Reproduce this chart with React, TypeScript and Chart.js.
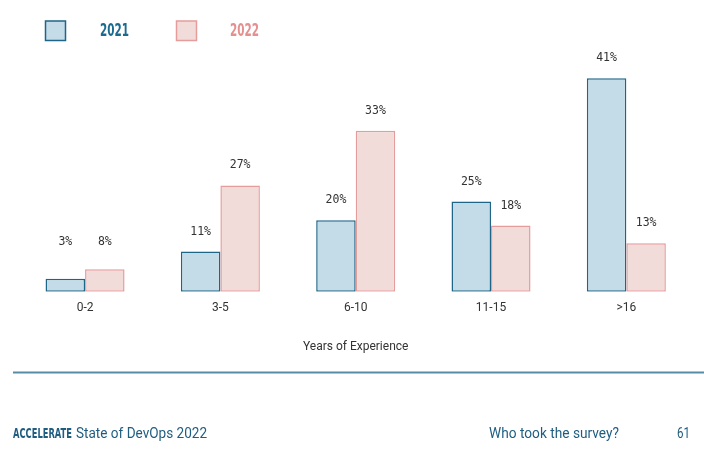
import React, { useEffect, useRef } from "react";
import { Chart, registerables } from "chart.js";

Chart.register(...registerables);

// ---- data ----
const categories = ["0-2", "3-5", "6-10", "11-15", ">16"];
const seriesNames = ["2021", "2022"];
// printed percentages
const pct2021 = [3, 11, 20, 25, 41];
const pct2022 = [8, 27, 33, 18, 13];
// bar heights as drawn in the picture (same units as the 41% bar)
const bar2021 = [2.5, 7.7, 13.7, 17.3, 41];
const bar2022 = [4.3, 20.4, 30.9, 12.7, 9.3];
const axisTitle = "Years of Experience";
const footerBrand = "ACCELERATE";
const footerTitle = "State of DevOps 2022";
const footerSection = "Who took the survey?";
const footerPage = "61";

const BLUE_FILL = "#c3dce7";
const BLUE_LINE = "#1e6588";
const PINK_FILL = "#f2dcda";
const PINK_LINE = "#e59d9c";
const BLUE_TEXT = "#1b6b91";
const PINK_TEXT = "#e58f8f";
const FOOT_TEXT = "#1f5d80";
const RULE = "#5a8ba6";
const SANS = "Roboto, 'Noto Sans', sans-serif";
const NARROW = "'Liberation Sans Narrow', 'DejaVu Sans Condensed', 'Arial Narrow', sans-serif";

function fitText(ctx: CanvasRenderingContext2D, text: string, x: number, y: number, w: number) {
  const m = ctx.measureText(text).width;
  ctx.save();
  ctx.translate(x, y);
  ctx.scale(w / m, 1);
  ctx.fillText(text, 0, 0);
  ctx.restore();
}

const labelsPlugin = {
  id: "barLabels",
  afterDatasetsDraw(chart: any) {
    const ctx = chart.ctx as CanvasRenderingContext2D;
    const printed = [pct2021, pct2022];
    const base = chart.scales.y.getPixelForValue(0);
    ctx.save();
    ctx.font = "11.5px 'DejaVu Sans Mono', monospace";
    ctx.fillStyle = "#333333";
    ctx.textAlign = "center";
    ctx.textBaseline = "middle";
    chart.data.datasets.forEach((_: any, di: number) => {
      const meta = chart.getDatasetMeta(di);
      meta.data.forEach((el: any, i: number) => {
        const y = Math.min(el.y - 20, base - 50);
        ctx.fillText(printed[di][i] + "%", el.x, y);
      });
    });
    ctx.restore();
  },
};

const decorPlugin = {
  id: "decor",
  afterDraw(chart: any) {
    const ctx = chart.ctx as CanvasRenderingContext2D;
    ctx.save();
    // legend
    const ds = chart.data.datasets;
    const boxX = [45.5, 176.5];
    const textX = [100, 230];
    const textCol = [BLUE_TEXT, PINK_TEXT];
    ds.forEach((d: any, i: number) => {
      ctx.fillStyle = d.backgroundColor;
      ctx.strokeStyle = d.borderColor;
      ctx.lineWidth = 1.5;
      ctx.fillRect(boxX[i], 21, 20, 19.5);
      ctx.strokeRect(boxX[i], 21, 20, 19.5);
      ctx.fillStyle = textCol[i];
      ctx.font = "bold 17px " + NARROW;
      ctx.textBaseline = "middle";
      ctx.textAlign = "left";
      fitText(ctx, d.label, textX[i], 31.5, 29);
    });
    // rule
    ctx.strokeStyle = RULE;
    ctx.lineWidth = 2;
    ctx.beginPath();
    ctx.moveTo(13, 372.5);
    ctx.lineTo(704, 372.5);
    ctx.stroke();
    // footer
    ctx.textBaseline = "middle";
    ctx.textAlign = "left";
    ctx.fillStyle = FOOT_TEXT;
    ctx.font = "bold 14px " + NARROW;
    fitText(ctx, footerBrand, 13, 434, 59);
    ctx.font = "14px " + SANS;
    fitText(ctx, footerTitle, 76, 434, 131);
    fitText(ctx, footerSection, 489, 434, 130);
    fitText(ctx, footerPage, 677, 434, 13);
    ctx.restore();
  },
};

export default function App() {
  const ref = useRef<HTMLCanvasElement | null>(null);
  useEffect(() => {
    if (!ref.current) return;
    const chart = new Chart(ref.current, {
      type: "bar",
      data: {
        labels: categories,
        datasets: [
          {
            label: seriesNames[0],
            data: bar2021,
            backgroundColor: BLUE_FILL,
            borderColor: BLUE_LINE,
            borderWidth: 1.5,
            borderSkipped: false,
          },
          {
            label: seriesNames[1],
            data: bar2022,
            backgroundColor: PINK_FILL,
            borderColor: PINK_LINE,
            borderWidth: 1.5,
            borderSkipped: false,
          },
        ],
      },
      options: {
        responsive: false,
        animation: false,
        devicePixelRatio: 1,
        layout: { padding: { left: 17.4, right: 10, top: 57.4, bottom: 113.5 } },
        datasets: { bar: { categoryPercentage: 0.584, barPercentage: 1 } },
        plugins: { legend: { display: false }, tooltip: { enabled: false } },
        scales: {
          x: {
            grid: { display: false, drawTicks: false },
            border: { display: false },
            ticks: { padding: 9, color: "#333333", font: { family: SANS, size: 12 } },
            title: {
              display: true,
              text: axisTitle,
              color: "#333333",
              font: { family: SANS, size: 12 },
              padding: { top: 16, bottom: 0 },
            },
          },
          y: { display: false, min: 0, max: 45 },
        },
      },
      plugins: [labelsPlugin, decorPlugin],
    });
    return () => chart.destroy();
  }, []);
  return (
    <canvas
      ref={ref}
      width={704}
      height={468}
      style={{ position: "absolute", left: 0, top: 0, width: 704, height: 468, display: "block" }}
    />
  );
}
